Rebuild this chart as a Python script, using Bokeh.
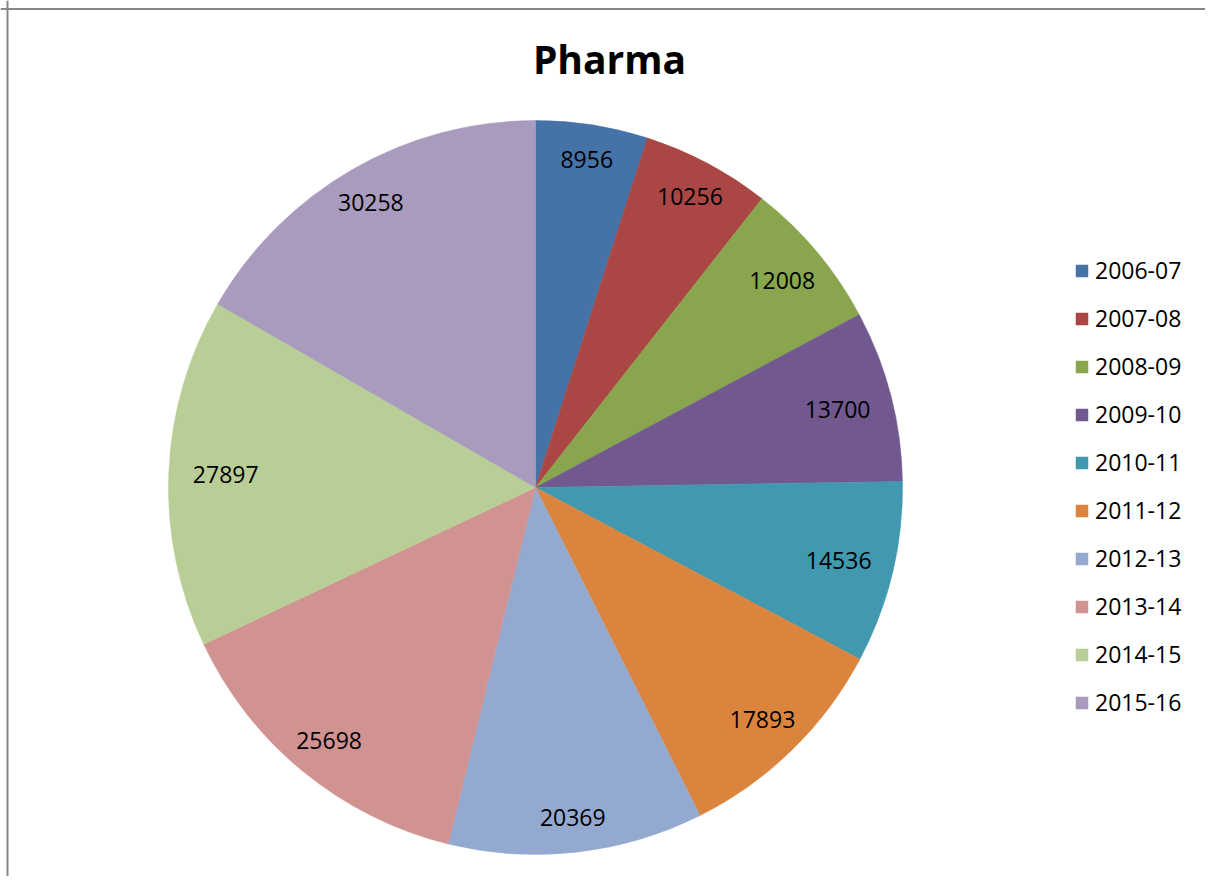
import numpy as np
from bokeh.plotting import figure
from bokeh.models import ColumnDataSource, Range1d, Legend, LegendItem, Label, Span
from bokeh.core.properties import value
from bokeh.embed import file_html
from bokeh.resources import INLINE

# ---- data ----
years = ["2006-07", "2007-08", "2008-09", "2009-10", "2010-11",
         "2011-12", "2012-13", "2013-14", "2014-15", "2015-16"]
amounts = [8956, 10256, 12008, 13700, 14536, 17893, 20369, 25698, 27897, 30258]
colors = ["#4572A7", "#AA4643", "#89A54E", "#71588F", "#4198AF",
          "#DB843D", "#93A9CF", "#D19392", "#B9CD96", "#A99BBD"]
title_text = "Pharma"

# ---- layout ----
W, H = 1205, 876
CX, CY, R = 535, H - 487, 367
FONT_PX = 23

vals = np.array(amounts, dtype=float)
frac = vals / vals.sum()
cum = np.concatenate([[0.0], np.cumsum(frac)])
start = np.pi / 2 - 2 * np.pi * cum[:-1]
end = np.pi / 2 - 2 * np.pi * cum[1:]
mid = (start + end) / 2

labels = [str(a) for a in amounts]
# labels pulled slightly inward where the text runs across the radius
lr = 332 - 22 * np.abs(np.cos(mid)) ** 3

src = ColumnDataSource(dict(
    year=years, amount=amounts, color=colors,
    start=start, end=end,
    lx=CX + lr * np.cos(mid), ly=CY + lr * np.sin(mid),
    label=labels,
))

p = figure(width=W, height=H, output_backend="svg", toolbar_location=None,
           x_range=Range1d(0, W), y_range=Range1d(0, H), min_border=0)
p.axis.visible = False
p.grid.visible = False
p.outline_line_color = None
p.background_fill_color = "white"
p.border_fill_color = "white"

wedges = []
for i in range(len(years)):
    r = p.wedge(x=CX, y=CY, radius=R, start_angle=start[i], end_angle=end[i],
                direction="clock", fill_color=colors[i], line_color=colors[i],
                line_width=0.5)
    wedges.append(r)

p.text(x="lx", y="ly", text="label", source=src, text_align="center",
       text_baseline="middle", text_font=value("Open Sans"),
       text_font_size=f"{FONT_PX}px", text_color="black")

legend = Legend(items=[LegendItem(label=years[i], renderers=[wedges[i]]) for i in range(len(years))],
                location=(1074, 158), orientation="vertical",
                glyph_width=15, glyph_height=15, label_height=30, spacing=16,
                label_standoff=6, padding=0, margin=0,
                label_text_font="Open Sans", label_text_font_size=f"{FONT_PX}px",
                label_text_color="black", border_line_color=None,
                background_fill_alpha=0)
p.add_layout(legend, "center")

p.add_layout(Label(x=609, y=H - 58, text=title_text, text_align="center",
                   text_baseline="middle", text_font="Open Sans",
                   text_font_style="bold", text_font_size="39px",
                   text_color="black"))

p.add_layout(Span(location=7, dimension="height", line_color="#878787", line_width=2))
p.add_layout(Span(location=H - 8.5, dimension="width", line_color="#878787", line_width=2))

open("out.html", "w").write(file_html(p, INLINE))
